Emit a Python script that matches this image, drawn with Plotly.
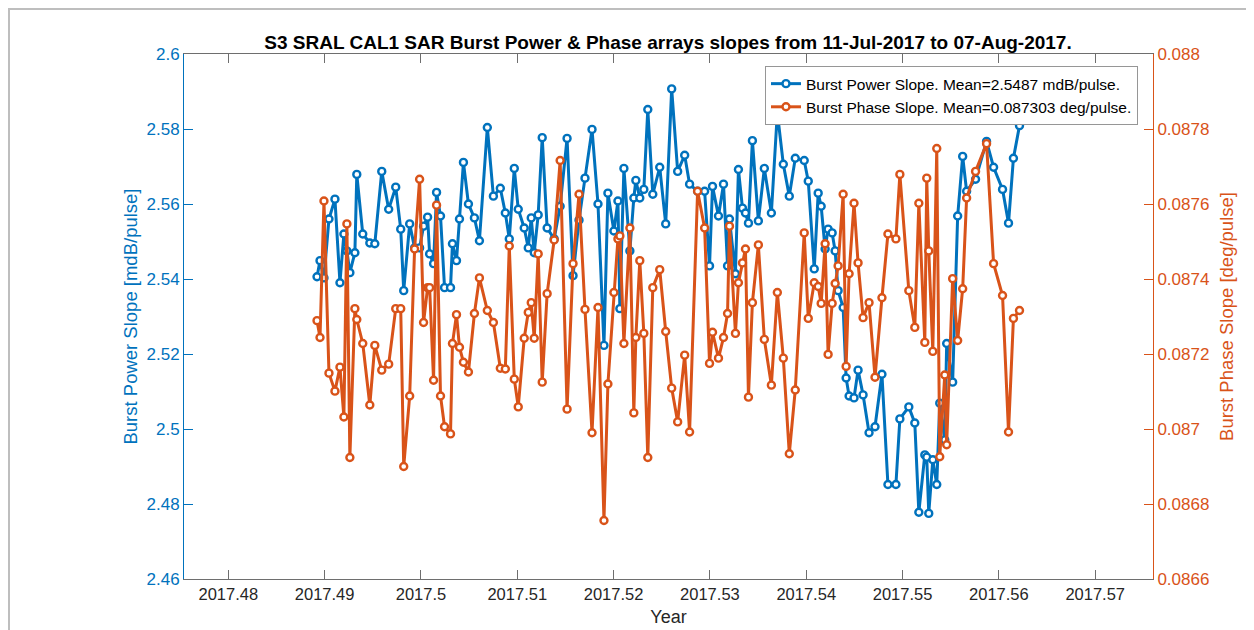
import plotly.graph_objects as go

# decimal year of each calibration burst (11-Jul-2017 .. 07-Aug-2017)
year = [
    2017.48921, 2017.48952, 2017.48993, 2017.49045, 2017.49107, 2017.49159, 2017.49200, 2017.49231,
    2017.49262, 2017.49314, 2017.49334, 2017.49396, 2017.49469, 2017.49521, 2017.49593, 2017.49665,
    2017.49738, 2017.49790, 2017.49821, 2017.49883, 2017.49934, 2017.49986, 2017.50027, 2017.50069,
    2017.50090, 2017.50131, 2017.50162, 2017.50203, 2017.50245, 2017.50307, 2017.50327, 2017.50369,
    2017.50400, 2017.50441, 2017.50493, 2017.50555, 2017.50607, 2017.50689, 2017.50752, 2017.50824,
    2017.50876, 2017.50917, 2017.50969, 2017.51010, 2017.51072, 2017.51114, 2017.51145, 2017.51176,
    2017.51217, 2017.51259, 2017.51310, 2017.51383, 2017.51445, 2017.51517, 2017.51579, 2017.51641,
    2017.51703, 2017.51776, 2017.51838, 2017.51900, 2017.51941, 2017.52003, 2017.52045, 2017.52065,
    2017.52107, 2017.52169, 2017.52210, 2017.52231, 2017.52272, 2017.52314, 2017.52355, 2017.52407,
    2017.52479, 2017.52541, 2017.52603, 2017.52665, 2017.52738, 2017.52789, 2017.52872, 2017.52945,
    2017.52996, 2017.53027, 2017.53089, 2017.53141, 2017.53183, 2017.53203, 2017.53265, 2017.53296,
    2017.53338, 2017.53369, 2017.53400, 2017.53441, 2017.53503, 2017.53565, 2017.53638, 2017.53700,
    2017.53762, 2017.53824, 2017.53886, 2017.53979, 2017.54021, 2017.54083, 2017.54124, 2017.54155,
    2017.54196, 2017.54227, 2017.54269, 2017.54300, 2017.54331, 2017.54383, 2017.54414, 2017.54445,
    2017.54496, 2017.54538, 2017.54590, 2017.54652, 2017.54714, 2017.54786, 2017.54848, 2017.54931,
    2017.54972, 2017.55065, 2017.55127, 2017.55169, 2017.55231, 2017.55251, 2017.55272, 2017.55314,
    2017.55355, 2017.55386, 2017.55438, 2017.55458, 2017.55520, 2017.55572, 2017.55624, 2017.55665,
    2017.55758, 2017.55872, 2017.55945, 2017.56038, 2017.56100, 2017.56151, 2017.56214,
]

# burst power slope [mdB/pulse]
power_slope = [
    2.5406, 2.5449, 2.5403, 2.5560, 2.5613, 2.5390, 2.5520, 2.5475,
    2.5417, 2.5470, 2.5679, 2.5520, 2.5496, 2.5494, 2.5687, 2.5586,
    2.5645, 2.5533, 2.5369, 2.5547, 2.5483, 2.5483, 2.5541, 2.5565,
    2.5467, 2.5441, 2.5631, 2.5568, 2.5377, 2.5377, 2.5494, 2.5449,
    2.5560, 2.5711, 2.5600, 2.5563, 2.5502, 2.5804, 2.5621, 2.5642,
    2.5576, 2.5507, 2.5695, 2.5586, 2.5536, 2.5483, 2.5563, 2.5470,
    2.5571, 2.5777, 2.5536, 2.5507, 2.5594, 2.5775, 2.5409, 2.5557,
    2.5669, 2.5799, 2.5600, 2.5223, 2.5629, 2.5528, 2.5608, 2.5321,
    2.5695, 2.5475, 2.5616, 2.5663, 2.5616, 2.5639, 2.5852, 2.5626,
    2.5698, 2.5547, 2.5907, 2.5687, 2.5730, 2.5653, 2.5634, 2.5634,
    2.5435, 2.5647, 2.5568, 2.5653, 2.5435, 2.5560, 2.5414, 2.5692,
    2.5589, 2.5576, 2.5549, 2.5769, 2.5555, 2.5695, 2.5576, 2.5844,
    2.5706, 2.5621, 2.5722, 2.5716, 2.5661, 2.5427, 2.5629, 2.5594,
    2.5480, 2.5533, 2.5523, 2.5475, 2.5369, 2.5324, 2.5136, 2.5088,
    2.5083, 2.5157, 2.5091, 2.4990, 2.5006, 2.5146, 2.4852, 2.4852,
    2.5027, 2.5059, 2.5016, 2.4778, 2.4931, 2.4925, 2.4775, 2.4918,
    2.4852, 2.5069, 2.4971, 2.5228, 2.5125, 2.5568, 2.5727, 2.5634,
    2.5666, 2.5767, 2.5698, 2.5639, 2.5549, 2.5722, 2.5809,
]

# burst phase slope [deg/pulse]
phase_slope = [
    0.087289, 0.087244, 0.087608, 0.087149, 0.087101, 0.087165, 0.087032, 0.087547,
    0.086924, 0.087321, 0.087292, 0.087228, 0.087064, 0.087223, 0.087157, 0.087173,
    0.087321, 0.087321, 0.086900, 0.087088, 0.087480, 0.087666, 0.087284, 0.087377,
    0.087377, 0.087130, 0.087597, 0.087088, 0.087006, 0.086987, 0.087228, 0.087305,
    0.087218, 0.087178, 0.087152, 0.087308, 0.087403, 0.087316, 0.087284, 0.087162,
    0.087160, 0.087488, 0.087133, 0.087059, 0.087242, 0.087311, 0.087337, 0.087242,
    0.087467, 0.087125, 0.087361, 0.087504, 0.087716, 0.087053, 0.087441, 0.087626,
    0.087319, 0.086990, 0.087324, 0.086756, 0.087120, 0.087364, 0.087507, 0.087515,
    0.087228, 0.087536, 0.087043, 0.087244, 0.087449, 0.087255, 0.086924, 0.087377,
    0.087425, 0.087260, 0.087109, 0.087019, 0.087197, 0.086992, 0.087634, 0.087536,
    0.087175, 0.087258, 0.087189, 0.087244, 0.087308, 0.087541, 0.087255, 0.087390,
    0.087443, 0.087480, 0.087085, 0.087337, 0.087491, 0.087239, 0.087117, 0.087364,
    0.087189, 0.086934, 0.087104, 0.087523, 0.087295, 0.087390, 0.087380, 0.087335,
    0.087494, 0.087199, 0.087335, 0.087388, 0.087435, 0.087626, 0.087167, 0.087414,
    0.087602, 0.087443, 0.087297, 0.087337, 0.087138, 0.087350, 0.087520, 0.087507,
    0.087679, 0.087369, 0.087271, 0.087602, 0.087231, 0.087669, 0.087475, 0.087207,
    0.087748, 0.086926, 0.087144, 0.086958, 0.087401, 0.087236, 0.087374, 0.087616,
    0.087687, 0.087761, 0.087441, 0.087356, 0.086992, 0.087295, 0.087316,
]

x_ticks = [2017.48, 2017.49, 2017.50, 2017.51, 2017.52, 2017.53, 2017.54, 2017.55, 2017.56, 2017.57]
x_labels = ["2017.48", "2017.49", "2017.5", "2017.51", "2017.52", "2017.53", "2017.54", "2017.55", "2017.56", "2017.57"]
power_ticks = [2.46, 2.48, 2.50, 2.52, 2.54, 2.56, 2.58, 2.60]
power_labels = ["2.46", "2.48", "2.5", "2.52", "2.54", "2.56", "2.58", "2.6"]
phase_ticks = [0.0866, 0.0868, 0.0870, 0.0872, 0.0874, 0.0876, 0.0878, 0.0880]
phase_labels = ["0.0866", "0.0868", "0.087", "0.0872", "0.0874", "0.0876", "0.0878", "0.088"]

BLUE = "rgb(0,114,189)"
ORANGE = "rgb(217,83,25)"
FONT = "Liberation Sans, Arial, Helvetica, sans-serif"

fig = go.Figure()
fig.add_trace(go.Scatter(
    x=year, y=power_slope, mode="lines+markers", yaxis="y",
    name="Burst Power Slope. Mean=2.5487 mdB/pulse.",
    line=dict(color=BLUE, width=3),
    marker=dict(symbol="circle", size=7, color="white", line=dict(color=BLUE, width=2.4)),
))
fig.add_trace(go.Scatter(
    x=year, y=phase_slope, mode="lines+markers", yaxis="y2",
    name="Burst Phase Slope. Mean=0.087303 deg/pulse.",
    line=dict(color=ORANGE, width=3),
    marker=dict(symbol="circle", size=7, color="white", line=dict(color=ORANGE, width=2.4)),
))

# page has an 8px body margin, so the figure is sized to fit the window
fig.update_layout(
    width=1246, height=622,
    margin=dict(l=176, r=101, t=46, b=51),
    paper_bgcolor="white", plot_bgcolor="white",
    font=dict(family=FONT, size=16, color="rgb(38,38,38)"),
    title=dict(
        text="<b>S3 SRAL CAL1 SAR Burst Power & Phase arrays slopes from 11-Jul-2017 to 07-Aug-2017.</b>",
        x=0.5297, xanchor="center", y=0.945, yanchor="middle",
        font=dict(size=19, color="black"),
    ),
    xaxis=dict(
        range=[2017.4754, 2017.5760], tickvals=x_ticks, ticktext=x_labels,
        ticks="inside", ticklen=9, tickcolor="rgb(110,110,110)",
        showline=True, linecolor="rgb(110,110,110)", linewidth=1, mirror="ticks",
        showgrid=False, zeroline=False, automargin=False,
        title=dict(text="Year", font=dict(size=18), standoff=8),
        tickfont=dict(size=16.5),
    ),
    yaxis=dict(
        range=[2.46, 2.6], tickvals=power_ticks, ticktext=power_labels,
        ticks="inside", ticklen=9, tickcolor=BLUE,
        showline=True, linecolor=BLUE, linewidth=1,
        showgrid=False, zeroline=False, automargin=False,
        tickfont=dict(size=17, color=BLUE),
        title=dict(text="Burst Power Slope [mdB/pulse]", font=dict(size=18.5, color=BLUE), standoff=4),
    ),
    yaxis2=dict(
        range=[0.0866, 0.088], tickvals=phase_ticks, ticktext=phase_labels,
        overlaying="y", side="right", anchor="x",
        ticks="inside", ticklen=9, tickcolor=ORANGE,
        showline=True, linecolor=ORANGE, linewidth=1,
        showgrid=False, zeroline=False, automargin=False,
        tickfont=dict(size=17, color=ORANGE),
        title=dict(text="Burst Phase Slope [deg/pulse]", font=dict(size=18.5, color=ORANGE), standoff=11),
    ),
    legend=dict(
        x=0.9845, y=0.977, xanchor="right", yanchor="top",
        bgcolor="white", bordercolor="rgb(150,150,150)", borderwidth=1,
        font=dict(size=15.5, color="black"), tracegroupgap=0,
    ),
    showlegend=True,
)

# light grey frame around the whole figure window
fig.add_shape(type="rect", xref="paper", yref="paper",
              x0=-0.1806, x1=1.0991, y0=-0.14, y1=1.0857,
              line=dict(color="rgb(190,190,190)", width=2), fillcolor="rgba(0,0,0,0)", layer="below")

fig.write_html("out.html")
